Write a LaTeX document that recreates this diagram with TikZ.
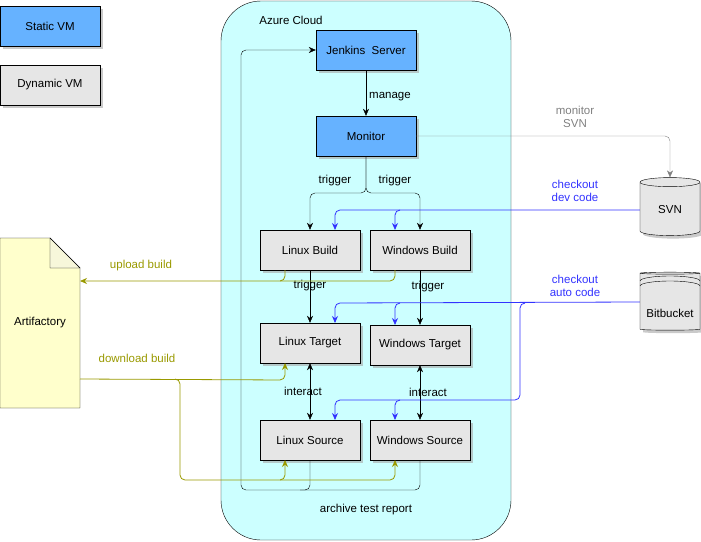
\documentclass[tikz,border=0pt]{standalone}
\usepackage{fontspec}
\setmainfont{Liberation Sans}
\usetikzlibrary{shapes.geometric,shadows,arrows.meta}
\definecolor{vmblue}{HTML}{66B2FF}
\definecolor{vmgray}{HTML}{E6E6E6}
\definecolor{cloud}{HTML}{CCFFFF}
\definecolor{olive}{HTML}{999900}
\definecolor{bl}{HTML}{3333FF}
\definecolor{artif}{HTML}{FFFFCC}
\begin{document}
\begin{tikzpicture}[x=1pt,y=-1pt,font=\fontsize{11.5}{13}\selectfont,
  box/.style={draw,minimum width=100pt,minimum height=40pt,inner sep=0pt,drop shadow={shadow xshift=3pt,shadow yshift=-3pt,fill=gray!70,opacity=.6}},
  st/.style={box,fill=vmblue},
  dy/.style={box,fill=vmgray},
  arr/.style={-{Stealth[length=7pt,width=6pt]},rounded corners=5pt},
  lbl/.style={inner sep=1pt,align=center},
  bluearr/.style={arr,draw=bl,thick},
  olarr/.style={arr,draw=olive,thick}]
\useasboundingbox (0,0) rectangle (701,541);
\draw[fill=cloud,rounded corners=40pt] (221,1) rectangle (511,540);
\node[lbl] (az) at (291,20) {Azure Cloud};
\node[st] (sv) at (50,26) {Static VM};
\node[dy] (dv) at (50,85) {Dynamic VM};
\node[st] (jen) at (366,50) {Jenkins\ \ Server};
\node[st] (mon) at (366,136) {Monitor};
\node[dy] (lb) at (310,250) {Linux Build};
\node[dy] (wb) at (420,250) {Windows Build};
\node[dy] (lt) at (310,343) {Linux Target};
\node[dy] (wt) at (420,345) {Windows Target};
\node[dy] (ls) at (310,440) {Linux Source};
\node[dy] (ws) at (420,440) {Windows Source};
% artifactory
\draw[fill=artif] (0,238) -- (50,238) -- (80,268) -- (80,408) -- (0,408) -- cycle;
\draw[fill=artif!80!olive!40] (50,238) -- (50,268) -- (80,268) -- cycle;
\node (art) at (40,323) {Artifactory};
\coordinate (artU) at (80,281);
\coordinate (artD) at (80,379);
% cylinders
\node[cylinder,shape border rotate=90,draw,fill=vmgray,minimum width=60pt,minimum height=58pt,aspect=0.3,shape aspect=0.3,drop shadow={shadow xshift=3pt,shadow yshift=-3pt,fill=gray!70,opacity=.6}] (svn) at (670,210) {SVN};
\node[cylinder,shape border rotate=90,draw,fill=vmgray,minimum width=60pt,minimum height=58pt,aspect=0.3,shape aspect=0.3,drop shadow={shadow xshift=3pt,shadow yshift=-3pt,fill=gray!70,opacity=.6}] (bb) at (670,302) {};
\draw (640,281) arc[start angle=180,end angle=360,x radius=30,y radius=5];
\draw (640,286) arc[start angle=180,end angle=360,x radius=30,y radius=5];
\node at (670,313) {Bitbucket};
% black connectors
\draw[arr] (jen) -- (mon) node[midway,right,lbl,xshift=2pt,yshift=-4pt] {manage};
\draw[arr] (mon.south) -- (366,193) -- (310,193) -- (lb.north);
\draw[arr] (mon.south) -- (366,193) -- (420,193) -- (wb.north);
\node[lbl] at (335,181) {trigger};
\node[lbl] at (395,181) {trigger};
\draw[arr] (lb) -- (lt) node[lbl,pos=0.3,fill=none] {trigger};
\draw[arr] (wb) -- (wt) node[lbl,pos=0.3,xshift=8pt] {trigger};
\draw[arr,{Stealth[length=7pt,width=6pt]}-{Stealth[length=7pt,width=6pt]}] (lt) -- (ls) node[lbl,midway,xshift=-7pt] {interact};
\draw[arr,{Stealth[length=7pt,width=6pt]}-{Stealth[length=7pt,width=6pt]}] (wt) -- (ws) node[lbl,midway,xshift=8pt] {interact};
\draw[arr] (ls.south) -- (310,490) -- (241,490) -- (241,50) -- (jen.west);
\draw[rounded corners=5pt] (ws.south) -- (420,490) -- (300,490);
\node[lbl] at (366,510) {archive test report};
% gray
\draw[arr,draw=gray] (mon.east) -- (670,136) -- (svn.north);
\node[lbl,text=gray] at (575,117) {monitor\\SVN};
% blue
\draw[bluearr] (svn.west) -- (335,210) -- (335,230);
\draw[bluearr] (400,210) -- (395,210) -- (395,230);
\node[lbl,text=bl] at (575,191) {checkout\\dev code};
\draw[bluearr] (bb.west) -- (335,303) -- (335,323);
\draw[bluearr] (400,303) -- (395,303) -- (395,325);
\draw[bluearr] (525,303) -- (520,303) -- (520,400) -- (335,400) -- (335,420);
\draw[bluearr] (400,400) -- (395,400) -- (395,420);
\node[lbl,text=bl] at (575,286) {checkout\\auto code};
% olive
\draw[olarr] (285,270) -- (285,281) -- (artU);
\draw[olarr,-] (395,270) -- (395,281) -- (280,281);
\node[lbl,text=olive] at (141,266) {upload build};
\draw[olarr] (artD) -- (285,380) -- (285,363);
\draw[olarr] (175,379) -- (180,379) -- (180,480) -- (285,480) -- (285,460);
\draw[olarr] (280,480) -- (395,480) -- (395,460);
\node[lbl,text=olive] at (137,358) {download build};
\end{tikzpicture}
\end{document}
